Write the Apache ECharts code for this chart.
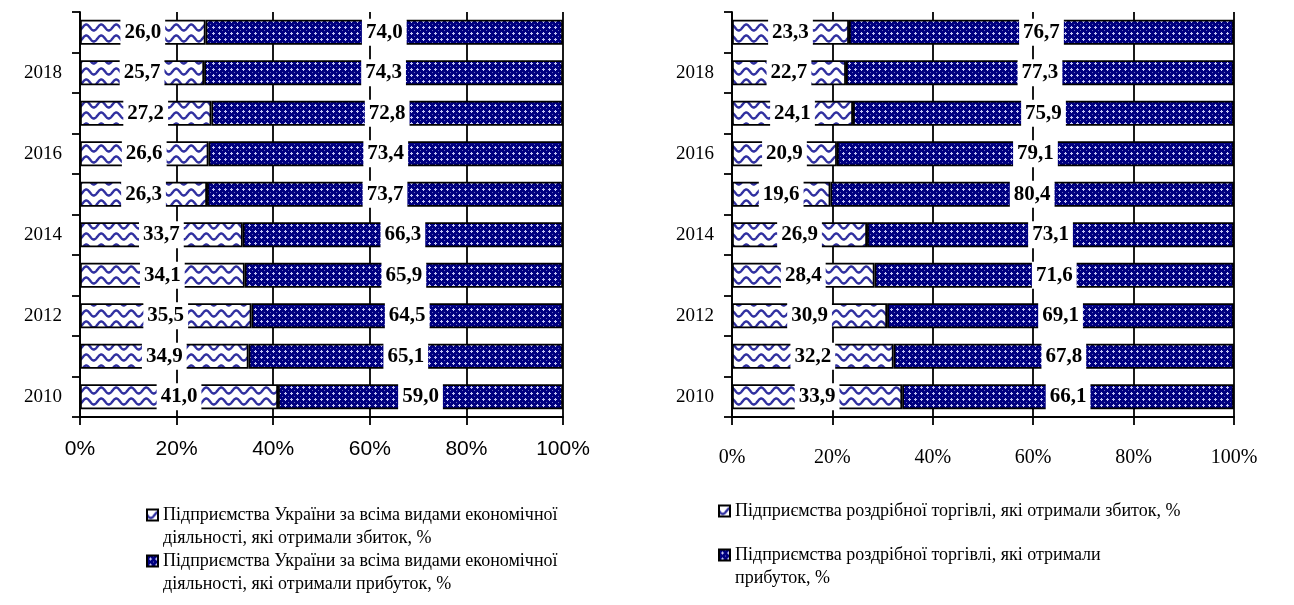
<!DOCTYPE html>
<html>
<head>
<meta charset="utf-8">
<script src="https://cdn.jsdelivr.net/npm/echarts@6/dist/echarts.min.js"></script>
<style>
  html, body { margin: 0; padding: 0; background: #fff; }
  #chart { width: 1294px; height: 605px; }
</style>
</head>
<body>
<div id="chart"></div>
<script>
// роки (знизу вгору)
const years = ['2010', '2011', '2012', '2013', '2014', '2015', '2016', '2017', '2018', '2019'];
// підприємства України, всі види діяльності
const ukraineLoss = [41.0, 34.9, 35.5, 34.1, 33.7, 26.3, 26.6, 27.2, 25.7, 26.0];
const ukraineProfit = [59.0, 65.1, 64.5, 65.9, 66.3, 73.7, 73.4, 72.8, 74.3, 74.0];
// підприємства роздрібної торгівлі
const retailLoss = [33.9, 32.2, 30.9, 28.4, 26.9, 19.6, 20.9, 24.1, 22.7, 23.3];
const retailProfit = [66.1, 67.8, 69.1, 71.6, 73.1, 80.4, 79.1, 75.9, 77.3, 76.7];

const seriesNames = [
  'Підприємства України за всіма видами економічної діяльності, які отримали збиток, %',
  'Підприємства України за всіма видами економічної діяльності, які отримали прибуток, %',
  'Підприємства роздрібної торгівлі, які отримали збиток, %',
  'Підприємства роздрібної торгівлі, які отримали прибуток, %'
];
// як підписи стоять у легенді (рядки)
const legendLabels = [
  ['Підприємства України за всіма видами економічної', 'діяльності, які отримали збиток, %'],
  ['Підприємства України за всіма видами економічної', 'діяльності, які отримали прибуток, %'],
  ['Підприємства роздрібної торгівлі, які отримали збиток, %'],
  ['Підприємства роздрібної торгівлі, які отримали', 'прибуток, %']
];
const xTicks = [0, 20, 40, 60, 80, 100];

const SERIF = '"Liberation Serif", "DejaVu Serif", serif';
const SANS = '"Liberation Sans", Arial, sans-serif';

// штрихування: хвилі (збиток)
function wavePattern() {
  const c = document.createElement('canvas');
  c.width = 15; c.height = 11;
  const ctx = c.getContext('2d');
  ctx.fillStyle = '#fff';
  ctx.fillRect(0, 0, 15, 11);
  ctx.strokeStyle = '#3030a0';
  ctx.lineWidth = 2.4;
  ctx.beginPath();
  for (let x = -1; x <= 16; x += 0.5) {
    const y = 5.5 + 3 * Math.sin(2 * Math.PI * x / 15);
    if (x === -1) ctx.moveTo(x, y); else ctx.lineTo(x, y);
  }
  ctx.stroke();
  return c;
}

// штрихування: темно-синє з хрестиками (прибуток)
function crossPattern() {
  const c = document.createElement('canvas');
  c.width = 6; c.height = 6;
  const ctx = c.getContext('2d');
  ctx.fillStyle = '#000080';
  ctx.fillRect(0, 0, 6, 6);
  ctx.fillStyle = '#c4c4f4';
  ctx.fillRect(3, 2, 1, 3);
  ctx.fillRect(2, 3, 3, 1);
  ctx.fillStyle = '#6a6ab8';
  ctx.fillRect(0, 0, 1, 1);
  return c;
}

const waveFill = { image: wavePattern(), repeat: 'repeat' };
const crossFill = { image: crossPattern(), repeat: 'repeat' };

function fmt(v) {
  return v.toFixed(1).replace('.', ',');
}

const grids = [
  { left: 80, right: 731, top: 12, bottom: 188 },
  { left: 732, right: 60, top: 12, bottom: 188 }
];

function makeX(gridIndex, font, size, margin) {
  return {
    type: 'value',
    gridIndex: gridIndex,
    min: 0,
    max: 100,
    interval: 20,
    axisLine: { show: true, lineStyle: { color: '#000', width: 1.8 } },
    axisTick: { show: true, length: 8, lineStyle: { color: '#000', width: 1.8 } },
    axisLabel: {
      margin: margin,
      color: '#000',
      fontFamily: font,
      fontSize: size,
      customValues: xTicks,
      formatter: '{value}%'
    },
    splitLine: { show: true, lineStyle: { color: '#000', width: 1.8 } }
  };
}

function makeY(gridIndex) {
  return {
    type: 'category',
    gridIndex: gridIndex,
    data: years,
    axisLine: { show: true, lineStyle: { color: '#000', width: 1.8 } },
    axisTick: { show: true, interval: 0, length: 8, lineStyle: { color: '#000', width: 1.8 } },
    axisLabel: {
      interval: 1,
      margin: 18,
      color: '#000',
      fontFamily: SERIF,
      fontSize: 19
    }
  };
}

function makeBar(name, data, fill, idx, stack) {
  return {
    name: name,
    type: 'bar',
    stack: stack,
    xAxisIndex: idx,
    yAxisIndex: idx,
    data: data,
    barWidth: 25,
    itemStyle: { color: fill, borderColor: '#000', borderWidth: 1.8 },
    label: {
      show: true,
      position: 'inside',
      color: '#000',
      fontFamily: SERIF,
      fontWeight: 'bold',
      fontSize: 21,
      backgroundColor: '#fff',
      padding: [3, 4],
      formatter: function (p) { return fmt(p.value); }
    },
    emphasis: { disabled: true }
  };
}

function makeLegend(i, left, top) {
  const lines = legendLabels[i];
  return {
    data: [seriesNames[i]],
    left: left,
    top: top,
    padding: 0,
    icon: 'rect',
    itemWidth: 11,
    itemHeight: 11,
    selectedMode: false,
    // порожній перший рядок, щоб значок стояв навпроти першого рядка тексту
    formatter: function () {
      return lines.length > 1 ? ' \n' + lines.join('\n') : lines[0];
    },
    textStyle: {
      color: '#000',
      fontFamily: SERIF,
      fontSize: 18,
      lineHeight: 23
    }
  };
}

const chart = echarts.init(document.getElementById('chart'));
chart.setOption({
  animation: false,
  grid: grids,
  xAxis: [makeX(0, SANS, 21, 22), makeX(1, SERIF, 20, 31)],
  yAxis: [makeY(0), makeY(1)],
  legend: [
    makeLegend(0, 146, 480.5),
    makeLegend(1, 146, 526.5),
    makeLegend(2, 718, 499.5),
    makeLegend(3, 718, 520.5)
  ],
  series: [
    makeBar(seriesNames[0], ukraineLoss, waveFill, 0, 'ua'),
    makeBar(seriesNames[1], ukraineProfit, crossFill, 0, 'ua'),
    makeBar(seriesNames[2], retailLoss, waveFill, 1, 'retail'),
    makeBar(seriesNames[3], retailProfit, crossFill, 1, 'retail')
  ]
});
</script>
</body>
</html>
